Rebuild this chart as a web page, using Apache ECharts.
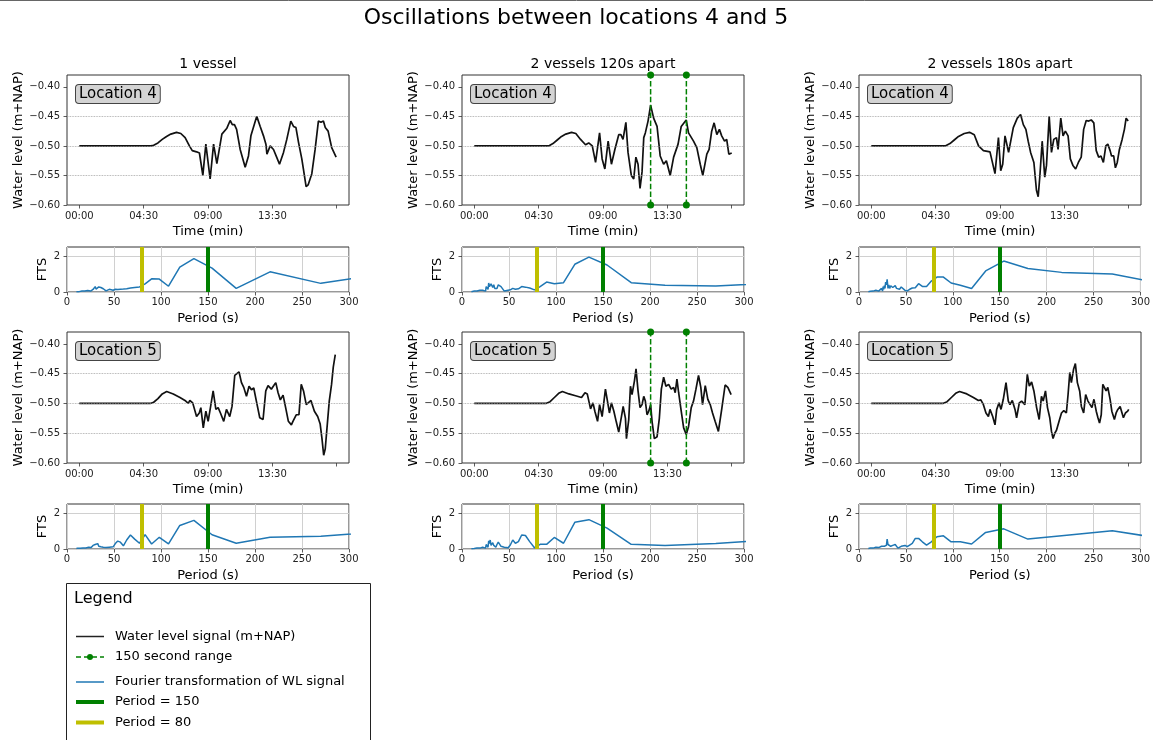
<!DOCTYPE html>
<html>
<head>
<meta charset="utf-8">
<title>Oscillations between locations 4 and 5</title>
<script src="https://cdn.jsdelivr.net/npm/echarts@6/dist/echarts.min.js"></script>
<style>
html, body { margin: 0; padding: 0; background: #fff; }
#main { width: 1153px; height: 740px; }
</style>
</head>
<body>
<div id="main"></div>
<script>
// ---- values ----
const timeTicks = [0, 4.5, 9, 13.5, 18];               // minutes
const timeTickLabels = ['00:00', '04:30', '09:00', '13:30', ''];
const wlTicks = [-0.60, -0.55, -0.50, -0.45, -0.40];
const refLevels = [-0.45, -0.50, -0.55];
const ftsTicks = [0, 2];
const periodMarks = [80, 150];
const rangeLines = [12.33, 14.83];                      // minutes, 150 s apart
const scenarios = ['1 vessel', '2 vessels 120s apart', '2 vessels 180s apart'];
const locations = ['Location 4', 'Location 5'];

// water level, [minute, m+NAP]
const wlLoc4_1v = [[0,-0.500],[5.0,-0.500],[5.2,-0.499],[5.5,-0.495],[5.8,-0.489],[6.1,-0.484],[6.4,-0.480],[6.8,-0.477],[7.1,-0.479],[7.4,-0.486],[7.7,-0.500],[7.9,-0.508],[8.2,-0.510],[8.4,-0.512],[8.64,-0.550],[8.85,-0.497],[9.15,-0.556],[9.39,-0.497],[9.62,-0.530],[9.97,-0.480],[10.32,-0.470],[10.55,-0.457],[10.7,-0.464],[10.85,-0.464],[11.0,-0.472],[11.25,-0.506],[11.6,-0.536],[11.83,-0.517],[12.0,-0.483],[12.13,-0.480],[12.41,-0.450],[12.65,-0.467],[12.88,-0.483],[13.05,-0.497],[13.12,-0.514],[13.35,-0.500],[13.58,-0.506],[13.8,-0.519],[14.0,-0.531],[14.28,-0.511],[14.51,-0.489],[14.79,-0.458],[14.98,-0.467],[15.15,-0.469],[15.33,-0.494],[15.56,-0.522],[15.67,-0.539],[15.86,-0.569],[16.0,-0.566],[16.26,-0.547],[16.49,-0.506],[16.72,-0.458],[16.9,-0.460],[17.07,-0.458],[17.2,-0.469],[17.4,-0.475],[17.65,-0.503],[17.96,-0.519]];
const wlLoc4_120 = [[0,-0.500],[5.2,-0.500],[5.5,-0.496],[5.8,-0.490],[6.1,-0.484],[6.4,-0.480],[6.8,-0.477],[7.1,-0.479],[7.43,-0.489],[7.78,-0.498],[8.0,-0.495],[8.25,-0.500],[8.48,-0.528],[8.6,-0.531],[8.76,-0.478],[8.94,-0.522],[9.13,-0.539],[9.36,-0.492],[9.59,-0.531],[9.83,-0.506],[10.1,-0.481],[10.25,-0.481],[10.4,-0.489],[10.6,-0.460],[10.75,-0.511],[10.98,-0.550],[11.15,-0.556],[11.3,-0.519],[11.45,-0.531],[11.59,-0.572],[11.73,-0.544],[11.85,-0.486],[11.96,-0.478],[12.15,-0.458],[12.33,-0.431],[12.54,-0.453],[12.78,-0.467],[13.0,-0.517],[13.24,-0.531],[13.43,-0.525],[13.7,-0.550],[13.94,-0.519],[14.05,-0.517],[14.25,-0.497],[14.47,-0.467],[14.82,-0.456],[14.98,-0.478],[15.1,-0.475],[15.33,-0.492],[15.56,-0.503],[15.8,-0.531],[15.98,-0.550],[16.26,-0.514],[16.42,-0.506],[16.6,-0.475],[16.77,-0.461],[16.96,-0.481],[17.14,-0.472],[17.3,-0.483],[17.5,-0.492],[17.65,-0.489],[17.8,-0.514],[18.0,-0.512]];
const wlLoc4_180 = [[0,-0.500],[5.17,-0.500],[5.5,-0.496],[5.8,-0.490],[6.1,-0.484],[6.5,-0.479],[6.87,-0.477],[7.2,-0.481],[7.5,-0.500],[7.84,-0.508],[8.3,-0.510],[8.65,-0.547],[8.89,-0.486],[9.05,-0.542],[9.19,-0.531],[9.35,-0.483],[9.45,-0.486],[9.6,-0.511],[9.93,-0.469],[10.21,-0.453],[10.44,-0.447],[10.63,-0.464],[10.81,-0.472],[10.97,-0.492],[11.14,-0.511],[11.37,-0.528],[11.55,-0.575],[11.67,-0.586],[11.79,-0.550],[11.95,-0.492],[12.13,-0.553],[12.25,-0.533],[12.44,-0.450],[12.6,-0.511],[12.76,-0.489],[12.95,-0.486],[13.06,-0.506],[13.25,-0.453],[13.41,-0.483],[13.57,-0.475],[13.76,-0.483],[13.92,-0.522],[14.1,-0.533],[14.29,-0.539],[14.48,-0.528],[14.68,-0.519],[14.85,-0.472],[15.03,-0.457],[15.2,-0.458],[15.38,-0.456],[15.56,-0.461],[15.73,-0.508],[15.9,-0.519],[16.06,-0.517],[16.23,-0.528],[16.4,-0.500],[16.54,-0.497],[16.7,-0.508],[16.8,-0.517],[16.95,-0.517],[17.07,-0.537],[17.2,-0.528],[17.35,-0.506],[17.54,-0.489],[17.7,-0.472],[17.82,-0.453],[17.96,-0.458]];
const wlLoc5_1v = [[0,-0.500],[4.96,-0.500],[5.2,-0.498],[5.5,-0.492],[5.8,-0.484],[6.11,-0.480],[6.57,-0.484],[7.04,-0.490],[7.39,-0.495],[7.62,-0.500],[7.73,-0.495],[7.93,-0.499],[8.2,-0.522],[8.39,-0.516],[8.5,-0.507],[8.67,-0.541],[8.85,-0.513],[9.01,-0.530],[9.17,-0.507],[9.36,-0.479],[9.55,-0.510],[9.71,-0.507],[9.87,-0.516],[10.1,-0.530],[10.29,-0.510],[10.52,-0.522],[10.68,-0.505],[10.87,-0.453],[10.99,-0.456],[11.17,-0.447],[11.34,-0.465],[11.5,-0.473],[11.69,-0.488],[11.87,-0.471],[12.04,-0.477],[12.2,-0.474],[12.39,-0.497],[12.62,-0.524],[12.85,-0.527],[13.04,-0.479],[13.2,-0.470],[13.43,-0.476],[13.6,-0.470],[13.74,-0.465],[13.9,-0.482],[14.06,-0.494],[14.25,-0.486],[14.43,-0.507],[14.62,-0.530],[14.83,-0.536],[14.94,-0.530],[15.17,-0.519],[15.36,-0.519],[15.52,-0.468],[15.68,-0.479],[15.87,-0.502],[16.0,-0.505],[16.2,-0.495],[16.44,-0.513],[16.67,-0.522],[16.84,-0.534],[16.97,-0.559],[17.09,-0.587],[17.2,-0.576],[17.36,-0.530],[17.48,-0.496],[17.64,-0.468],[17.76,-0.439],[17.9,-0.418]];
const wlLoc5_120 = [[0,-0.500],[5.0,-0.500],[5.3,-0.497],[5.6,-0.490],[5.9,-0.483],[6.16,-0.480],[6.62,-0.484],[7.08,-0.487],[7.5,-0.490],[7.74,-0.482],[7.9,-0.484],[8.13,-0.509],[8.3,-0.499],[8.43,-0.513],[8.62,-0.530],[8.76,-0.502],[8.94,-0.522],[9.17,-0.476],[9.3,-0.479],[9.45,-0.516],[9.59,-0.499],[9.76,-0.513],[9.92,-0.530],[10.1,-0.548],[10.29,-0.522],[10.41,-0.505],[10.57,-0.525],[10.64,-0.559],[10.8,-0.527],[10.92,-0.471],[11.03,-0.485],[11.2,-0.462],[11.31,-0.442],[11.45,-0.479],[11.59,-0.507],[11.73,-0.502],[11.85,-0.488],[11.96,-0.496],[12.08,-0.519],[12.2,-0.513],[12.33,-0.502],[12.43,-0.530],[12.59,-0.559],[12.78,-0.556],[12.94,-0.525],[13.08,-0.476],[13.24,-0.456],[13.4,-0.471],[13.59,-0.468],[13.77,-0.476],[13.94,-0.473],[14.05,-0.482],[14.17,-0.459],[14.29,-0.482],[14.47,-0.513],[14.64,-0.541],[14.82,-0.552],[14.98,-0.539],[15.17,-0.507],[15.33,-0.496],[15.5,-0.476],[15.68,-0.453],[15.84,-0.473],[15.96,-0.502],[16.15,-0.470],[16.33,-0.493],[16.5,-0.502],[16.66,-0.516],[16.84,-0.530],[17.07,-0.547],[17.3,-0.510],[17.54,-0.469],[17.73,-0.473],[17.96,-0.485]];
const wlLoc5_180 = [[0,-0.500],[5.0,-0.500],[5.3,-0.497],[5.6,-0.490],[5.9,-0.483],[6.17,-0.480],[6.68,-0.484],[7.14,-0.490],[7.49,-0.495],[7.66,-0.494],[7.84,-0.502],[8.02,-0.516],[8.19,-0.522],[8.3,-0.510],[8.49,-0.522],[8.65,-0.536],[8.77,-0.510],[8.93,-0.499],[9.07,-0.510],[9.23,-0.493],[9.42,-0.465],[9.58,-0.496],[9.7,-0.502],[9.86,-0.495],[10.05,-0.510],[10.16,-0.524],[10.35,-0.499],[10.51,-0.496],[10.74,-0.502],[10.91,-0.451],[11.05,-0.471],[11.21,-0.464],[11.37,-0.479],[11.56,-0.507],[11.74,-0.527],[11.9,-0.488],[12.02,-0.496],[12.18,-0.479],[12.32,-0.507],[12.48,-0.524],[12.6,-0.547],[12.71,-0.559],[12.83,-0.550],[12.95,-0.545],[13.13,-0.530],[13.3,-0.516],[13.46,-0.512],[13.64,-0.516],[13.76,-0.485],[13.88,-0.448],[13.99,-0.465],[14.15,-0.442],[14.27,-0.433],[14.41,-0.465],[14.57,-0.479],[14.69,-0.505],[14.85,-0.516],[14.99,-0.485],[15.15,-0.496],[15.27,-0.493],[15.43,-0.507],[15.57,-0.493],[15.73,-0.513],[15.85,-0.524],[15.96,-0.533],[16.08,-0.519],[16.19,-0.468],[16.31,-0.471],[16.42,-0.479],[16.54,-0.473],[16.7,-0.493],[16.82,-0.513],[17.0,-0.527],[17.12,-0.516],[17.24,-0.510],[17.4,-0.505],[17.52,-0.502],[17.63,-0.524],[17.77,-0.516],[17.93,-0.513],[18.0,-0.510]];

// Fourier spectra: period (s) and amplitude
const periods = [360,270,216,180,154.3,135,120,108,98.2,90,83.1,77.1,72,67.5,63.5,60,56.8,54,51.4,49.1,47,45,43.2,41.5,40,38.6,37.2,36,34.8,33.8,32.7,31.8,30.9,30,29.2,28.4,27.7,27,26.3,25.7,25.1,24,23,22,21,20,19,18,17,16,15,14,13,12,11,10];
const ftsLoc4_1v  = [1.2,0.48,1.12,0.2,1.33,1.85,1.38,0.32,0.72,0.73,0.45,0.28,0.25,0.22,0.18,0.16,0.15,0.14,0.15,0.1,0.08,0.15,0.1,0.06,0.12,0.18,0.15,0.25,0.18,0.28,0.2,0.26,0.16,0.3,0.22,0.28,0.14,0.2,0.08,0.12,0.05,0.1,0.06,0.08,0.04,0.1,0.05,0.08,0.03,0.06,0.02,0.04,0.02,0.03,0.02,0.02];
const ftsLoc4_120 = [0.56,0.33,0.37,0.52,1.5,1.94,1.54,0.52,0.46,0.55,0.3,0.12,0.22,0.27,0.3,0.18,0.15,0.2,0.12,0.1,0.1,0.05,0.15,0.3,0.38,0.4,0.2,0.15,0.2,0.4,0.25,0.15,0.45,0.5,0.3,0.5,0.15,0.25,0.1,0.3,0.05,0.15,0.08,0.1,0.04,0.08,0.1,0.05,0.08,0.06,0.1,0.04,0.05,0.03,0.02,0.02];
const ftsLoc4_180 = [0.1,1.0,1.09,1.31,1.72,1.17,0.19,0.37,0.5,0.83,0.83,0.61,0.31,0.31,0.46,0.24,0.22,0.15,0.06,0.09,0.19,0.28,0.15,0.1,0.2,0.35,0.45,0.25,0.15,0.35,0.2,0.4,0.2,0.7,0.4,0.55,0.2,0.35,0.15,0.3,0.05,0.2,0.1,0.12,0.05,0.15,0.08,0.1,0.04,0.15,0.05,0.08,0.03,0.04,0.02,0.02];
const ftsLoc5_1v  = [1.04,0.71,0.65,0.32,0.79,1.59,1.31,0.28,0.65,0.28,0.8,0.32,0.55,0.78,0.5,0.18,0.38,0.44,0.3,0.12,0.15,0.1,0.15,0.08,0.12,0.1,0.15,0.12,0.2,0.15,0.3,0.2,0.35,0.25,0.3,0.15,0.2,0.12,0.15,0.08,0.12,0.06,0.1,0.05,0.08,0.06,0.08,0.05,0.06,0.04,0.05,0.04,0.05,0.03,0.04,0.03];
const ftsLoc5_120 = [0.63,0.3,0.19,0.26,1.16,1.63,1.48,0.32,0.64,0.26,0.26,0.07,0.41,0.75,0.78,0.41,0.32,0.5,0.22,0.07,0.08,0.1,0.05,0.15,0.25,0.38,0.25,0.1,0.05,0.2,0.35,0.4,0.2,0.5,0.3,0.45,0.1,0.2,0.08,0.25,0.05,0.15,0.05,0.1,0.06,0.08,0.05,0.08,0.04,0.06,0.03,0.05,0.03,0.04,0.02,0.02];
const ftsLoc5_180 = [0.29,1.01,0.73,0.55,1.12,0.92,0.28,0.4,0.4,0.73,0.68,0.4,0.22,0.4,0.59,0.59,0.31,0.22,0.13,0.2,0.15,0.15,0.1,0.05,0.15,0.25,0.32,0.2,0.1,0.15,0.05,0.1,0.25,0.55,0.2,0.15,0.1,0.15,0.12,0.18,0.08,0.15,0.1,0.12,0.08,0.12,0.06,0.1,0.05,0.08,0.05,0.06,0.04,0.05,0.03,0.03];

const wlData = [[wlLoc4_1v, wlLoc4_120, wlLoc4_180], [wlLoc5_1v, wlLoc5_120, wlLoc5_180]];
const ftsData = [[ftsLoc4_1v, ftsLoc4_120, ftsLoc4_180], [ftsLoc5_1v, ftsLoc5_120, ftsLoc5_180]];

// ---- layout ----
const FONT = 'DejaVu Sans';
const colLeft = [67, 462, 859];
const colWidth = 282;
const wlRows = [{ top: 75, height: 130 }, { top: 332, height: 131 }];
const ftsRows = [{ top: 247, height: 45 }, { top: 504, height: 45 }];
const WL_MIN = -0.60, WL_MAX = -0.38;
const GREEN = '#008000', YELLOW = '#bfbf00', BLUE = '#1f77b4';

const grids = [], xAxes = [], yAxes = [], series = [], graphics = [];

function minus(s) { return String(s).replace('-', '\u2212'); }

const tickStyle = { length: 3.5, lineStyle: { color: '#333', width: 0.8 } };
const labelStyle = { fontFamily: FONT, fontSize: 10, color: '#222' };
const nameStyle = { fontFamily: FONT, fontSize: 13, color: '#000' };

function addGrid(left, top, height) {
  grids.push({ left: left, top: top, width: colWidth, height: height, show: true,
    borderColor: '#333', borderWidth: 1, backgroundColor: 'transparent' });
  return grids.length - 1;
}

function addWaterLevel(col, row) {
  const r = wlRows[row];
  const g = addGrid(colLeft[col], r.top, r.height);
  xAxes.push({
    gridIndex: g, type: 'value', min: -0.86, max: 18.86,
    name: 'Time (min)', nameLocation: 'middle', nameGap: 20, nameTextStyle: nameStyle,
    axisLine: { show: false, onZero: false },
    axisTick: Object.assign({ customValues: timeTicks }, tickStyle),
    axisLabel: Object.assign({ customValues: timeTicks, margin: 6,
      formatter: function (v) {
        const k = timeTicks.findIndex(t => Math.abs(t - v) < 1e-6);
        return k >= 0 ? timeTickLabels[k] : '';
      } }, labelStyle),
    splitLine: { show: false }
  });
  yAxes.push({
    gridIndex: g, type: 'value', min: WL_MIN, max: WL_MAX,
    name: 'Water level (m+NAP)', nameLocation: 'middle', nameRotate: 90, nameGap: 42, nameTextStyle: nameStyle,
    axisLine: { show: false, onZero: false },
    axisTick: Object.assign({ customValues: wlTicks }, tickStyle),
    axisLabel: Object.assign({ customValues: wlTicks, margin: 7,
      formatter: v => minus(v.toFixed(2)) }, labelStyle),
    splitLine: { show: false }
  });
  series.push({
    type: 'line', xAxisIndex: g, yAxisIndex: g, data: wlData[row][col],
    symbol: 'none', lineStyle: { color: '#111', width: 1.7 }, z: 3,
    markLine: {
      silent: true, symbol: ['none', 'none'], label: { show: false },
      lineStyle: { type: 'dotted', color: '#9a9a9a', width: 0.8 },
      data: refLevels.map(v => ({ yAxis: v }))
    }
  });
  if (col === 1) {
    rangeLines.forEach(t => series.push({
      type: 'line', xAxisIndex: g, yAxisIndex: g, data: [[t, WL_MIN], [t, WL_MAX]],
      symbol: 'circle', symbolSize: 7, itemStyle: { color: GREEN }, z: 4,
      lineStyle: { color: GREEN, width: 1.5, type: [5.5, 2.4] }
    }));
  }
  graphics.push({
    type: 'text', x: colLeft[col] + 9, y: r.top + 10, z: 10,
    style: { text: locations[row], fontFamily: FONT, fontSize: 15, fill: '#000',
      backgroundColor: '#d3d3d3', borderColor: '#444', borderWidth: 1, borderRadius: 3,
      padding: [2, 3, 1, 3] }
  });
}

function addSpectrum(col, row) {
  const r = ftsRows[row];
  const g = addGrid(colLeft[col], r.top, r.height);
  const vals = ftsData[row][col];
  xAxes.push({
    gridIndex: g, type: 'value', min: 0, max: 300, interval: 50,
    name: 'Period (s)', nameLocation: 'middle', nameGap: 20, nameTextStyle: nameStyle,
    axisLine: { show: false, onZero: false },
    axisTick: tickStyle,
    axisLabel: Object.assign({ margin: 5 }, labelStyle),
    splitLine: { show: true, lineStyle: { color: '#d0d0d0', width: 1 } }
  });
  yAxes.push({
    gridIndex: g, type: 'value', min: 0, max: 2.5, interval: 2,
    name: 'FTS', nameLocation: 'middle', nameRotate: 90, nameGap: 18, nameTextStyle: nameStyle,
    axisLine: { show: false, onZero: false },
    axisTick: Object.assign({ customValues: ftsTicks }, tickStyle),
    axisLabel: Object.assign({ customValues: ftsTicks, margin: 7 }, labelStyle),
    splitLine: { show: true, lineStyle: { color: '#d0d0d0', width: 1 } }
  });
  series.push({
    type: 'line', xAxisIndex: g, yAxisIndex: g,
    data: periods.map((p, k) => [p, vals[k]]),
    symbol: 'none', clip: true, lineStyle: { color: BLUE, width: 1.5 }, z: 3,
    markLine: {
      silent: true, symbol: ['none', 'none'], label: { show: false },
      data: [
        { xAxis: periodMarks[0], lineStyle: { color: YELLOW, width: 4, type: 'solid' } },
        { xAxis: periodMarks[1], lineStyle: { color: GREEN, width: 4, type: 'solid' } }
      ]
    }
  });
}

for (let c = 0; c < 3; c++) {
  for (let row = 0; row < 2; row++) {
    addWaterLevel(c, row);
    addSpectrum(c, row);
  }
  graphics.push({
    type: 'text', x: colLeft[c] + colWidth / 2, y: 64,
    style: { text: scenarios[c], fontFamily: FONT, fontSize: 14, fill: '#000', align: 'center', verticalAlign: 'middle' }
  });
}

// figure title and frame line at the top
graphics.push({
  type: 'text', x: 576, y: 18,
  style: { text: 'Oscillations between locations 4 and 5', fontFamily: FONT, fontSize: 22, fill: '#000', align: 'center', verticalAlign: 'middle' }
});
graphics.push({ type: 'line', shape: { x1: 0, y1: 0.5, x2: 1153, y2: 0.5 }, style: { stroke: '#666', lineWidth: 1 } });

// legend box
const legendItems = [
  { label: 'Water level signal (m+NAP)', color: '#222', width: 1.5, dash: null, dot: false, y: 636.5 },
  { label: '150 second range', color: GREEN, width: 1.5, dash: [5, 3], dot: true, y: 657 },
  { label: 'Fourier transformation of WL signal', color: BLUE, width: 1.5, dash: null, dot: false, y: 682 },
  { label: 'Period = 150', color: GREEN, width: 4, dash: null, dot: false, y: 702 },
  { label: 'Period = 80', color: YELLOW, width: 4, dash: null, dot: false, y: 722.5 }
];
graphics.push({ type: 'rect', shape: { x: 66.5, y: 583.5, width: 304, height: 170 }, style: { fill: '#fff', stroke: '#222', lineWidth: 1 } });
graphics.push({ type: 'text', x: 74, y: 599, style: { text: 'Legend', fontFamily: FONT, fontSize: 16, fill: '#000', verticalAlign: 'middle' } });
legendItems.forEach(it => {
  graphics.push({ type: 'line', shape: { x1: 76, y1: it.y, x2: 104, y2: it.y },
    style: { stroke: it.color, lineWidth: it.width, lineDash: it.dash } });
  if (it.dot) graphics.push({ type: 'circle', shape: { cx: 90, cy: it.y, r: 3 }, style: { fill: it.color } });
  graphics.push({ type: 'text', x: 115, y: it.y,
    style: { text: it.label, fontFamily: FONT, fontSize: 13, fill: '#000', verticalAlign: 'middle' } });
});

const chart = echarts.init(document.getElementById('main'));
chart.setOption({
  animation: false,
  backgroundColor: '#fff',
  grid: grids,
  xAxis: xAxes,
  yAxis: yAxes,
  series: series,
  graphic: graphics
});
</script>
</body>
</html>
